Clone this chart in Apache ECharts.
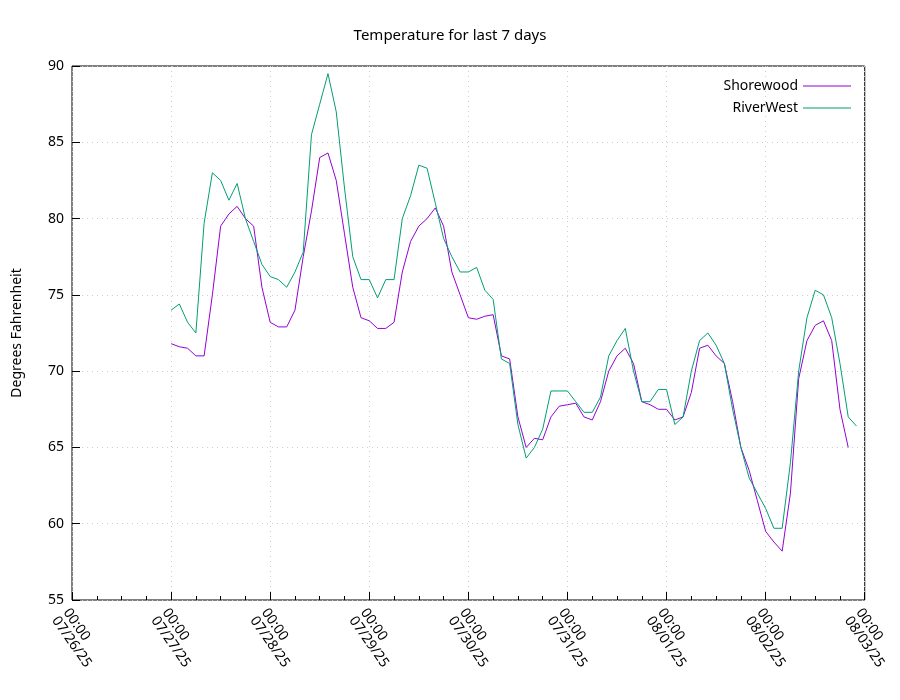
<!DOCTYPE html>
<html>
<head>
<meta charset="utf-8">
<script src="https://cdn.jsdelivr.net/npm/echarts@6/dist/echarts.min.js"></script>
<style>html,body{margin:0;background:#fff}#chart{width:900px;height:700px}</style>
</head>
<body>
<div id="chart"></div>
<script>
// readings every 2 hours, starting 07/27/25 00:00
const startHour = 24;
const stepHours = 2;
const shorewood = [
  71.8, 71.6, 71.5, 71.0, 71.0, 75.0, 79.5, 80.3, 80.8, 80.0, 79.5, 75.5,
  73.2, 72.9, 72.9, 74.0, 77.5, 80.5, 84.0, 84.3, 82.5, 79.0, 75.5, 73.5,
  73.3, 72.8, 72.8, 73.2, 76.5, 78.5, 79.5, 80.0, 80.7, 79.5, 76.5, 75.0,
  73.5, 73.4, 73.6, 73.7, 71.0, 70.8, 67.0, 65.0, 65.6, 65.5, 67.0, 67.7,
  67.8, 67.9, 67.0, 66.8, 68.0, 70.0, 71.0, 71.5, 70.5, 68.0, 67.8, 67.5,
  67.5, 66.8, 67.0, 68.6, 71.5, 71.7, 71.0, 70.5, 68.0, 65.0, 63.5, 61.5,
  59.5, 58.8, 58.2, 62.0, 69.5, 72.0, 73.0, 73.3, 72.0, 67.5, 65.0
];
const riverWest = [
  74.0, 74.4, 73.2, 72.5, 79.7, 83.0, 82.5, 81.2, 82.3, 80.0, 78.5, 77.0,
  76.2, 76.0, 75.5, 76.5, 77.8, 85.5, 87.5, 89.5, 87.0, 82.0, 77.5, 76.0,
  76.0, 74.8, 76.0, 76.0, 80.0, 81.5, 83.5, 83.3, 81.0, 78.7, 77.5, 76.5,
  76.5, 76.8, 75.3, 74.7, 70.8, 70.5, 66.5, 64.3, 65.0, 66.2, 68.7, 68.7,
  68.7, 68.0, 67.3, 67.3, 68.3, 71.0, 72.0, 72.8, 70.0, 68.0, 68.0, 68.8,
  68.8, 66.5, 67.0, 70.0, 72.0, 72.5, 71.7, 70.5, 67.5, 65.0, 63.0, 62.0,
  61.0, 59.7, 59.7, 64.0, 70.0, 73.5, 75.3, 75.0, 73.5, 70.5, 67.0, 66.4
];
const dayLabels = ['07/26/25', '07/27/25', '07/28/25', '07/29/25', '07/30/25',
  '07/31/25', '08/01/25', '08/02/25', '08/03/25'];

const pts = arr => arr.map((v, i) => [startHour + i * stepHours, v]);
const font = 'Noto Sans';

const chart = echarts.init(document.getElementById('chart'));
chart.setOption({
  animation: false,
  textStyle: { fontFamily: font },
  title: {
    text: 'Temperature for last 7 days', left: 'center', top: 23,
    textStyle: { fontSize: 15, fontWeight: 'normal', color: '#000', fontFamily: font }
  },
  legend: {
    orient: 'vertical', right: 44, top: 74, align: 'right',
    itemWidth: 48, itemHeight: 1, itemGap: 8, icon: 'rect',
    textStyle: { fontSize: 14, color: '#000' },
    data: ['Shorewood', 'RiverWest']
  },
  grid: { left: 72, right: 28, top: 66, bottom: 100, show: true, borderColor: '#000', borderWidth: 1 },
  xAxis: {
    type: 'value', min: 0, max: 192, interval: 24,
    axisLine: { show: false },
    axisTick: { inside: true, length: 8, lineStyle: { color: '#000' } },
    minorTick: { show: true, splitNumber: 4, length: 4, lineStyle: { color: '#000' } },
    splitLine: { show: true, lineStyle: { color: '#ccc', type: [1, 4] } },
    axisLabel: {
      rotate: -55, color: '#000', fontSize: 14, margin: 6, align: 'left', verticalAlign: 'top',
      formatter: v => '00:00\n' + dayLabels[Math.round(v / 24)]
    }
  },
  yAxis: {
    type: 'value', min: 55, max: 90, interval: 5,
    name: 'Degrees Fahrenheit', nameLocation: 'middle', nameGap: 48,
    nameTextStyle: { fontSize: 14, color: '#000' },
    axisLine: { show: false },
    axisTick: { inside: true, length: 8, lineStyle: { color: '#000' } },
    splitLine: { show: true, lineStyle: { color: '#ccc', type: [1, 4] } },
    axisLabel: { color: '#000', fontSize: 14 }
  },
  series: [
    { name: 'Shorewood', type: 'line', data: pts(shorewood), showSymbol: false,
      color: '#9400d3', lineStyle: { width: 1 } },
    { name: 'RiverWest', type: 'line', data: pts(riverWest), showSymbol: false,
      color: '#009e73', lineStyle: { width: 1 } }
  ]
});
</script>
</body>
</html>
